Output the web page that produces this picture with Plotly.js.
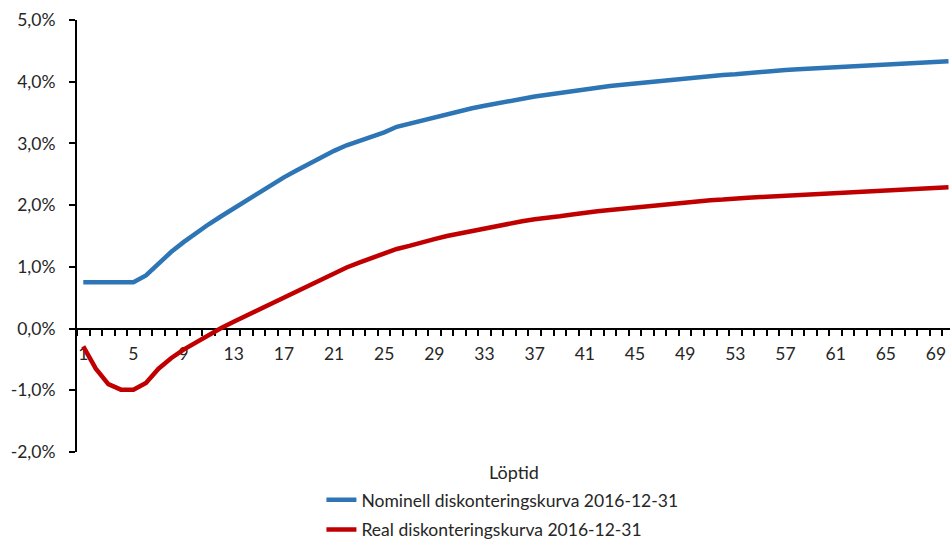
<!DOCTYPE html>
<html>
<head>
<meta charset="utf-8">
<script src="https://cdn.plot.ly/plotly-3.0.1.min.js"></script>
<style>
  html, body { margin: 0; padding: 0; background: #fff; }
  #chart { width: 950px; height: 539px; }
</style>
</head>
<body>
<div id="chart"></div>
<script>
// Löptid (år) 1–70
const loptid = Array.from({length: 70}, (_, i) => i + 1);

// Nominell diskonteringskurva 2016-12-31, procent
const nominell = [
  0.75, 0.75, 0.75, 0.75, 0.75, 0.86, 1.05, 1.24, 1.40, 1.55,
  1.69, 1.82, 1.95, 2.08, 2.21, 2.33, 2.45, 2.56, 2.67, 2.78,
  2.88, 2.97, 3.04, 3.12, 3.18, 3.27, 3.32, 3.38, 3.43, 3.47,
  3.52, 3.57, 3.61, 3.65, 3.69, 3.72, 3.76, 3.79, 3.82, 3.85,
  3.88, 3.90, 3.93, 3.95, 3.97, 4.00, 4.02, 4.04, 4.05, 4.07,
  4.09, 4.11, 4.12, 4.14, 4.16, 4.17, 4.19, 4.20, 4.21, 4.23,
  4.24, 4.25, 4.26, 4.27, 4.28, 4.29, 4.30, 4.31, 4.32, 4.33
];

// Real diskonteringskurva 2016-12-31, procent
const real = [
  -0.29, -0.65, -0.90, -0.99, -0.99, -0.88, -0.65, -0.48, -0.34, -0.22,
  -0.11,  0.01,  0.11,  0.21,  0.31,  0.41,  0.51,  0.61,  0.71,  0.81,
   0.90,  0.99,  1.07,  1.14,  1.22,  1.29,  1.34,  1.40,  1.45,  1.50,
   1.54,  1.59,  1.63,  1.67,  1.70,  1.74,  1.77,  1.79,  1.82,  1.85,
   1.88,  1.90,  1.92,  1.94,  1.96,  1.98,  2.01,  2.03,  2.05,  2.06,
   2.08,  2.09,  2.11,  2.12,  2.13,  2.14,  2.16,  2.17,  2.18,  2.19,
   2.20,  2.21,  2.22,  2.23,  2.24,  2.25,  2.26,  2.27,  2.28,  2.29
];

// Axis labels
const xTickVals = [1, 5, 9, 13, 17, 21, 25, 29, 33, 37, 41, 45, 49, 53, 57, 61, 65, 69];
const yTickVals = [-2, -1, 0, 1, 2, 3, 4, 5];
const yTickText = ['-2,0%', '-1,0%', '0,0%', '1,0%', '2,0%', '3,0%', '4,0%', '5,0%'];

const FONT = 'Lato, "Open Sans", sans-serif';
const TEXT = '#262626';

const traces = [
  {
    x: loptid, y: nominell, type: 'scatter', mode: 'lines',
    name: 'Nominell diskonteringskurva 2016-12-31',
    legendgroup: 'nom',
    line: {color: '#2E75B6', width: 4.5}
  },
  {
    x: loptid, y: real, type: 'scatter', mode: 'lines',
    name: 'Real diskonteringskurva 2016-12-31',
    legendgroup: 'real',
    line: {color: '#C00000', width: 4.5}
  }
];

const layout = {
  width: 950, height: 539,
  margin: {l: 77, r: 0, t: 20, b: 87, autoexpand: false},
  paper_bgcolor: '#fff', plot_bgcolor: '#fff',
  font: {family: FONT, size: 17, color: TEXT},
  showlegend: true,
  legend: {
    x: 0.28, xanchor: 'left', y: -0.069, yanchor: 'top',
    orientation: 'v', traceorder: 'grouped', tracegroupgap: 4,
    font: {family: FONT, size: 17.5, color: TEXT},
    bgcolor: 'rgba(0,0,0,0)'
  },
  xaxis: {
    type: 'linear',
    range: [0.5, 70.12],
    anchor: 'free', position: 2 / 7,
    showline: true, linecolor: '#000', linewidth: 2,
    showgrid: false, zeroline: false,
    tickmode: 'array', tickvals: xTickVals,
    ticks: 'outside', ticklen: 9, tickcolor: 'rgba(0,0,0,0)',
    minor: {
      tickmode: 'linear', tick0: 0.5, dtick: 1,
      ticks: 'outside', ticklen: 6, tickwidth: 2, tickcolor: '#000',
      showgrid: false
    },
    tickfont: {family: FONT, size: 17.5, color: TEXT},
    layer: 'below traces',
    fixedrange: true
  },
  yaxis: {
    range: [-2, 5],
    showline: true, linecolor: '#000', linewidth: 2,
    showgrid: false, zeroline: false,
    tickmode: 'array', tickvals: yTickVals, ticktext: yTickText,
    ticks: 'outside', ticklen: 6, tickwidth: 2, tickcolor: '#000',
    ticklabelstandoff: 10,
    tickfont: {family: FONT, size: 17.5, color: TEXT},
    fixedrange: true
  },
  annotations: [
    {
      text: 'Löptid', xref: 'paper', yref: 'paper',
      x: 0.5, y: -0.016, xanchor: 'center', yanchor: 'top',
      showarrow: false, font: {family: FONT, size: 18, color: TEXT}
    }
  ]
};

Plotly.newPlot('chart', traces, layout, {displayModeBar: false, staticPlot: true});
</script>
</body>
</html>
